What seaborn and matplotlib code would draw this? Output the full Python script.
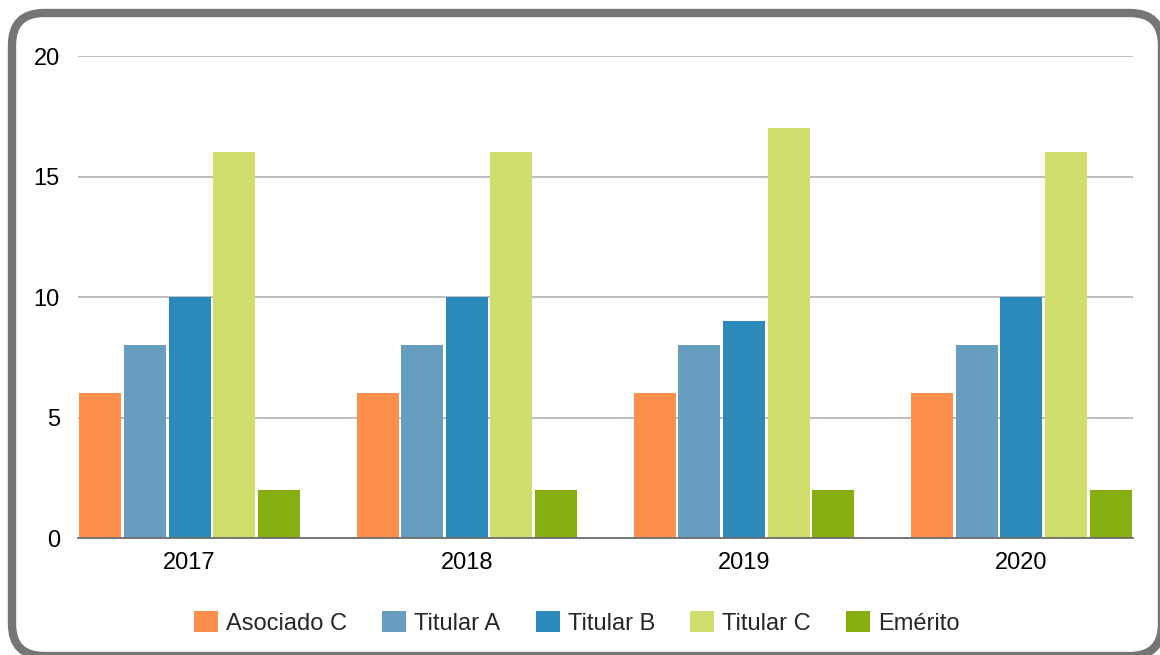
import numpy as np
import pandas as pd
import seaborn as sns
import matplotlib.pyplot as plt
from matplotlib.patches import FancyBboxPatch
from matplotlib.transforms import IdentityTransform

years = ['2017', '2018', '2019', '2020']
categorias = ['Asociado C', 'Titular A', 'Titular B', 'Titular C', 'Emérito']
asociado_c = [6, 6, 6, 6]
titular_a = [8, 8, 8, 8]
titular_b = [10, 10, 9, 10]
titular_c = [16, 16, 17, 16]
emerito = [2, 2, 2, 2]

colores = ['#ff8f4d', '#679dbe', '#2c8aba', '#d0de6e', '#86ae10']

series = [asociado_c, titular_a, titular_b, titular_c, emerito]
rows = []
for cat, vals in zip(categorias, series):
	for y, v in zip(years, vals):
		rows.append({'Año': y, 'Categoría': cat, 'Cantidad': v})
df = pd.DataFrame(rows)

sns.set_style('white')
plt.rcParams['font.family'] = ['Liberation Sans', 'DejaVu Sans']

fig = plt.figure(figsize=(11.6, 6.55), dpi=100)
ax = fig.add_axes([0.0672, 0.1786, 0.9095, 0.7359])

sns.barplot(data=df, x='Año', y='Cantidad', hue='Categoría', hue_order=categorias,
	palette=colores, width=0.805, gap=0.06, saturation=1, edgecolor='none', ax=ax)

ax.set_xlim(-0.4025, 3.4025)
ax.set_ylim(0, 20)
ax.set_yticks([0, 5, 10, 15, 20])
ax.yaxis.grid(True, color='#b3b3b3', linewidth=1.2)
ax.set_axisbelow(True)
ax.set_xlabel('')
ax.set_ylabel('')
for s in ['top', 'right', 'left']:
	ax.spines[s].set_visible(False)
ax.spines['bottom'].set_color('#6e6e6e')
ax.spines['bottom'].set_linewidth(1.3)
ax.tick_params(axis='both', length=0, labelsize=17, colors='black')
ax.tick_params(axis='y', pad=13)
ax.tick_params(axis='x', pad=10)

handles, labels = ax.get_legend_handles_labels()
ax.legend(handles, labels, loc='center', bbox_to_anchor=(0.473, -0.176),
	ncol=5, frameon=False, fontsize=17, handlelength=1.0, handleheight=1.0,
	handletextpad=0.35, columnspacing=1.5)

# marco redondeado en pixeles (cortado a la derecha y abajo)
# relleno blanco para que Agg no recorte las curvas; queda detras de los ejes
frame = FancyBboxPatch((12, -1), 1150, 643,
	boxstyle='round,pad=0,rounding_size=32', transform=IdentityTransform(),
	facecolor='white', edgecolor='#757575', linewidth=6, zorder=-1)
fig.patches.append(frame)

fig.savefig('out.png', dpi=100, facecolor='white')
